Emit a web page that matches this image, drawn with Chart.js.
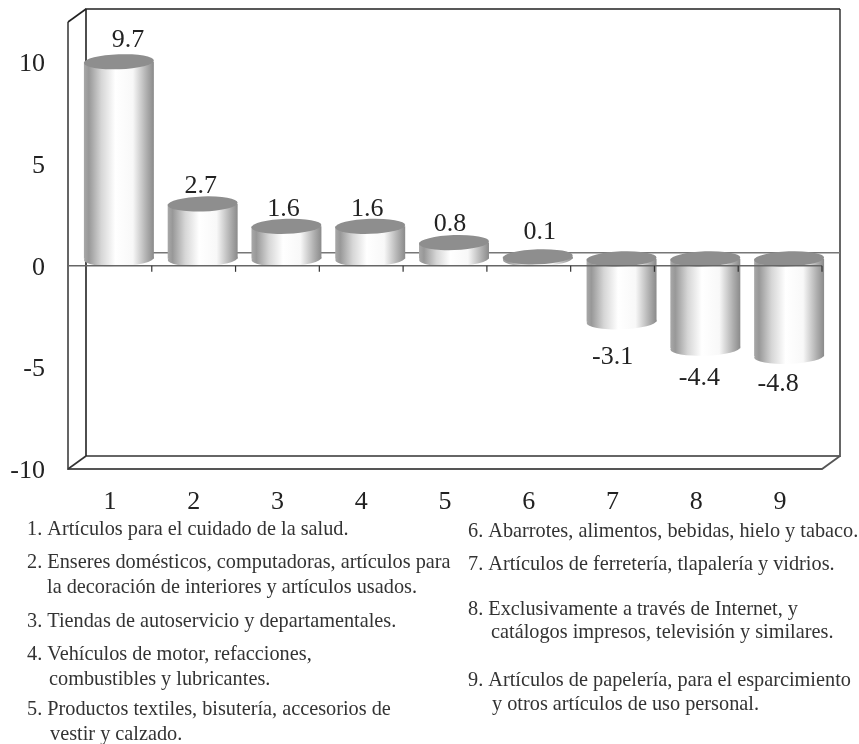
<!DOCTYPE html>
<html><head><meta charset="utf-8">
<style>html,body{margin:0;padding:0;background:#fff}canvas{display:block}</style>
<script src="https://cdn.jsdelivr.net/npm/chart.js@4"></script>
</head><body><canvas id="c" width="859" height="744"></canvas>
<script>
const categories = ['1','2','3','4','5','6','7','8','9'];
const values = [9.7,2.7,1.6,1.6,0.8,0.1,-3.1,-4.4,-4.8];
const yTicks = [-10,-5,0,5,10];
const notesLeft = [
 ['1. Artículos para el cuidado de la salud.',27,535],
 ['2. Enseres domésticos, computadoras, artículos para',27,568],
 ['la decoración de interiores y artículos usados.',47,593],
 ['3. Tiendas de autoservicio y departamentales.',27,627],
 ['4. Vehículos de motor, refacciones,',27,660],
 ['combustibles y lubricantes.',49,685],
 ['5. Productos textiles, bisutería, accesorios de',27,715],
 ['vestir y calzado.',50,740]];
const notesRight = [
 ['6. Abarrotes, alimentos, bebidas, hielo y tabaco.',468,537],
 ['7. Artículos de ferretería, tlapalería y vidrios.',468,570],
 ['8. Exclusivamente a través de Internet, y',468,615],
 ['catálogos impresos, televisión y similares.',491,638],
 ['9. Artículos de papelería, para el esparcimiento',468,686],
 ['y otros artículos de uso personal.',492,710]];
const labelDx = [9,-2,-3,-3,-4,2,-9,-6,-11];
const labelDy = [-22,-18,-17,-17,-18,-25,98,119,125];
const SERIF = '"Liberation Serif"';
const DEPTH_X = 18, DEPTH_Y = 13, OFF_X = 9, OFF_Y = 7, RY = 7.5, TILT = -0.035;

function grad(c, l, r){
  const g = c.createLinearGradient(l,0,r,0);
  g.addColorStop(0,'#a8a8a8'); g.addColorStop(.07,'#989898');
  g.addColorStop(.25,'#d6d6d6'); g.addColorStop(.45,'#ffffff');
  g.addColorStop(.7,'#f8f8f8'); g.addColorStop(.9,'#adadad');
  g.addColorStop(1,'#8a8a8a');
  return g;
}
function line(c,pts,color,w){
  c.beginPath(); c.strokeStyle=color; c.lineWidth=w;
  pts.forEach((p,i)=> i? c.lineTo(p[0],p[1]) : c.moveTo(p[0],p[1]));
  c.stroke();
}
function ellipse(c,x,y,rx,fill){
  c.beginPath(); c.ellipse(x,y,rx,RY,TILT,0,Math.PI*2); c.fillStyle=fill; c.fill();
}
const cylinder = {
  id:'cylinder',
  beforeDatasetsDraw(ch){
    const c=ch.ctx,a=ch.chartArea,z=ch.scales.y.getPixelForValue(0);
    c.save();
    line(c,[[a.left+DEPTH_X,a.bottom-DEPTH_Y],[a.right+DEPTH_X,a.bottom-DEPTH_Y],[a.right+DEPTH_X,a.top-DEPTH_Y]],'#666',2);
    line(c,[[a.right+DEPTH_X,a.top-DEPTH_Y],[a.left+DEPTH_X,a.top-DEPTH_Y],[a.left+DEPTH_X,a.bottom-DEPTH_Y]],'#222',1.6);
    line(c,[[a.left+DEPTH_X,z-DEPTH_Y],[a.right+DEPTH_X,z-DEPTH_Y]],'#777',1.6);
    c.restore();
  },
  beforeDatasetDraw(ch,args){
    const c=ch.ctx; c.save(); c.translate(OFF_X,-OFF_Y);
    args.meta.data.forEach((el,i)=>{
      const yb = values[i]>=0 ? el.base : el.y;
      ellipse(c,el.x,yb,el.width/2,grad(c,el.x-el.width/2,el.x+el.width/2));
    });
  },
  afterDatasetDraw(ch,args){
    const c=ch.ctx;
    args.meta.data.forEach((el,i)=>{
      const yt = values[i]>=0 ? el.y : el.base;
      ellipse(c,el.x,yt,el.width/2,'#8e8e8e');
    });
    c.restore();
  },
  afterDatasetsDraw(ch){
    const c=ch.ctx,a=ch.chartArea,x=ch.scales.x,z=ch.scales.y.getPixelForValue(0);
    c.save();
    line(c,[[a.left,a.top],[a.left,a.bottom],[a.right,a.bottom],[a.right+DEPTH_X,a.bottom-DEPTH_Y]],'#555',1.8);
    line(c,[[a.left,a.top],[a.left+DEPTH_X,a.top-DEPTH_Y]],'#222',1.6);
    line(c,[[a.left,a.bottom],[a.left+DEPTH_X,a.bottom-DEPTH_Y]],'#333',1.6);
    line(c,[[a.left,z],[a.right,z]],'#666',1.6);
    const step=x.width/categories.length;
    categories.forEach((_,i)=>{
      const t=x.getPixelForValue(i)+step/2;
      line(c,[[t,z],[t,z+6]],'#333',1.2);
    });
    c.fillStyle='#222'; c.font='26px '+SERIF; c.textAlign='center'; c.textBaseline='middle';
    const meta=ch.getDatasetMeta(0);
    values.forEach((v,i)=>{
      const el=meta.data[i];
      const yt=(v>=0?el.y:el.base)-OFF_Y;
      c.fillText(v.toFixed(1),el.x+labelDx[i]+OFF_X,yt+labelDy[i]);
    });
    c.fillStyle='#333'; c.font='20.3px '+SERIF; c.textAlign='left'; c.textBaseline='alphabetic';
    notesLeft.concat(notesRight).forEach(n=>c.fillText(n[0],n[1],n[2]));
    c.restore();
  }
};
new Chart(document.getElementById('c'),{
  type:'bar',
  data:{labels:categories,datasets:[{data:values,clip:false,borderWidth:0,
    barPercentage:.835,categoryPercentage:1,
    backgroundColor(ctx){
      const ch=ctx.chart;
      if(!ch.chartArea||ctx.dataIndex===undefined) return '#ccc';
      const xs=ch.scales.x,w=xs.width/categories.length*.835,m=xs.getPixelForValue(ctx.dataIndex);
      return grad(ch.ctx,m-w/2,m+w/2);
    }}]},
  options:{responsive:false,animation:false,
    layout:{padding:{top:22,right:37,left:0,bottom:0}},
    plugins:{legend:{display:false},tooltip:{enabled:false},title:{display:false}},
    scales:{
      x:{grid:{display:false},border:{display:false},
        ticks:{color:'#222',font:{family:SERIF,size:26},padding:10,maxRotation:0,autoSkip:false},
        afterFit(s){s.height=275;s.paddingLeft=0;s.paddingRight=0;}},
      y:{min:-10,max:12,grid:{display:false},border:{display:false},
        afterBuildTicks(s){s.ticks=yTicks.map(v=>({value:v}));},
        ticks:{color:'#222',font:{family:SERIF,size:26},padding:15,stepSize:5,labelOffset:2},
        afterFit(s){s.width=68;s.paddingTop=0;s.paddingBottom=0;}}
    }},
  plugins:[cylinder]
});
</script></body></html>
